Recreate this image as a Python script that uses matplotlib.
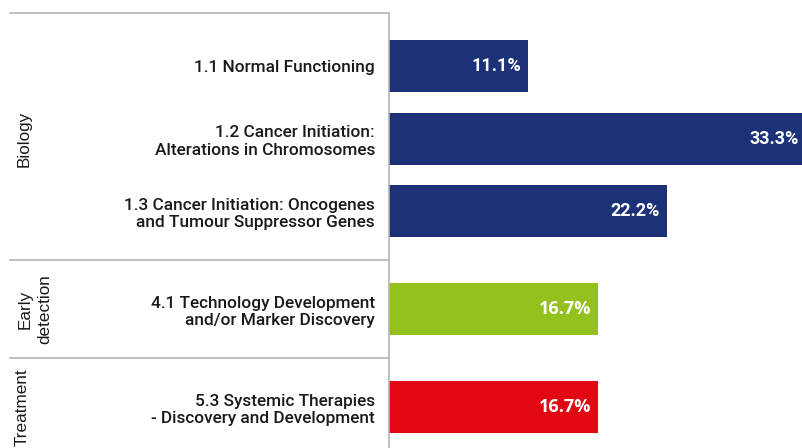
import matplotlib.pyplot as plt
from matplotlib.transforms import blended_transform_factory

# data
categories = [
    "1.1 Normal Functioning",
    "1.2 Cancer Initiation:\nAlterations in Chromosomes",
    "1.3 Cancer Initiation: Oncogenes\nand Tumour Suppressor Genes",
    "4.1 Technology Development\nand/or Marker Discovery",
    "5.3 Systemic Therapies\n- Discovery and Development",
]
values = [11.1, 33.3, 22.2, 16.7, 16.7]
groups = ["Biology", "Biology", "Biology", "Early\ndetection", "Treatment"]
group_names = ["Biology", "Early\ndetection", "Treatment"]

group_colors = {"Biology": "#1c3177", "Early\ndetection": "#95c11f", "Treatment": "#e30613"}
value_fonts = {"Biology": "Roboto", "Early\ndetection": "Open Sans", "Treatment": "Open Sans"}

# slot positions: one unit per bar, extra gap between groups
gap = 0.35
pos = []
y = 0.0
for i, g in enumerate(groups):
    if i > 0 and g != groups[i - 1]:
        y += gap
    pos.append(y)
    y += 1

fig = plt.figure(figsize=(8.03, 4.48), dpi=100)
ax = fig.add_axes([389 / 803, 0, 414 / 803, 1])

colors = [group_colors[g] for g in groups]
ax.barh(pos, values, height=0.716, color=colors)

ax.set_xlim(0, 33.07)
top = pos[0] - 0.725
ax.set_ylim(5.262, -0.909)

for v, p, g in zip(values, pos, groups):
    ax.annotate(f"{v}%", xy=(v, p), xytext=(-5, 0), textcoords="offset points",
                ha="right", va="center", color="white", fontsize=13,
                fontweight="bold", family=value_fonts[g], annotation_clip=False)

ax.set_yticks(pos, categories)
ax.tick_params(axis="y", length=0, pad=10)
for lbl in ax.get_yticklabels():
    lbl.set_family("Roboto")
    lbl.set_fontweight("medium")
    lbl.set_fontsize(12.4)
    lbl.set_color("#1a1a1a")
    lbl.set_linespacing(1.22)
ax.set_xticks([])

for s in ["top", "right", "bottom"]:
    ax.spines[s].set_visible(False)
ax.spines["left"].set_color("#b4b4b4")
ax.spines["left"].set_linewidth(1.2)
ax.spines["left"].set_bounds(top, 5.262)

# group separators and group labels in the left column
tr = blended_transform_factory(fig.transFigure, ax.transData)
seps = [top]
for i in range(1, len(groups)):
    if groups[i] != groups[i - 1]:
        seps.append((pos[i - 1] + pos[i]) / 2)
for s in seps:
    fig.add_artist(plt.Line2D([10 / 803, 389 / 803], [s, s], transform=tr,
                              color="#b4b4b4", lw=1.2))

label_x = {"Biology": 24, "Early\ndetection": 35, "Treatment": 22}
for name in group_names:
    ys = [p for p, g in zip(pos, groups) if g == name]
    fig.text(label_x[name] / 803, sum(ys) / len(ys), name, transform=tr,
             rotation=90, ha="center", va="center", fontsize=12.3,
             family="Liberation Sans", color="#1a1a1a", linespacing=1.35)

fig.savefig("out.png", dpi=100)
